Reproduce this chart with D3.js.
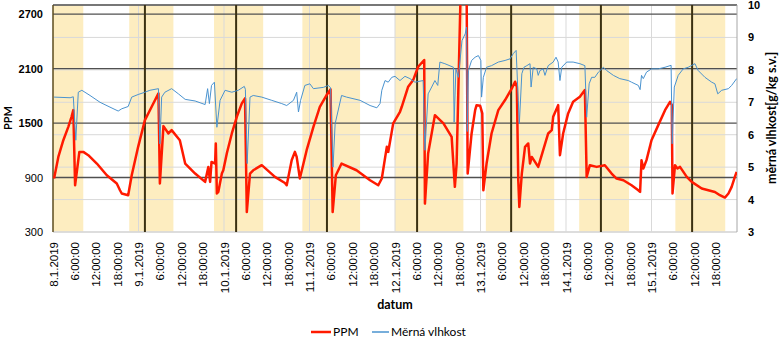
<!DOCTYPE html>
<html>
<head>
<meta charset="utf-8">
<script src="https://cdn.jsdelivr.net/npm/d3@7"></script>
<style>
  body { margin: 0; background: #fff; }
  svg { font-family: Lato, "Open Sans", sans-serif; }
</style>
</head>
<body>
<div id="chart"></div>
<script>
// time is given as hours since 8.1.2019 0:00
var startDate = new Date(2019, 0, 8, 0, 0, 0);

var ppmHours = [0.3, 1.5, 2.9, 4.3, 5.2, 5.7, 6.2, 7.4, 8.5, 9.9, 12.3, 15.1, 17.9, 18.8, 19.3, 21.1,
  22.1, 23.9, 25.8, 27.7, 29.6, 30.0, 31.0, 32.4, 33.3, 35.6, 37.1, 39.9, 42.7, 43.6, 44.1, 44.5,
  45.5, 45.7, 46.0, 46.4, 47.4, 47.8, 48.8, 50.2, 51.6, 53.0, 53.9, 54.4, 55.3, 56.2, 58.6, 62.3,
  65.1, 65.6, 67.0, 67.9, 68.4, 69.3, 71.2, 73.1, 74.9, 76.8, 77.9, 78.5, 79.4, 81.0, 85.2, 89.0,
  91.3, 92.3, 93.7, 94.1, 95.5, 97.4, 97.9, 99.7, 101.1, 102.5, 104.2, 104.4, 105.3, 107.2, 109.6,
  111.9, 112.8, 113.3, 114.4, 115.2, 116.1, 116.4, 117.5, 118.5, 118.9, 119.9, 120.5, 120.8, 121.7,
  123.1, 125.0, 126.9, 128.8, 129.7, 130.2, 130.6, 130.9, 131.6, 132.5, 133.4, 133.9, 134.4, 136.2,
  137.6, 139.0, 140.0, 140.4, 141.8, 142.3, 143.2, 144.6, 146.0, 147.9, 149.3, 149.8, 150.7, 152.6,
  154.9, 156.8, 158.2, 160.1, 162.4, 164.3, 164.8, 165.2, 165.7, 166.6, 168.0, 169.9, 171.8, 173.2,
  173.7, 173.9, 174.6, 175.3, 176.0, 177.9, 179.3, 182.1, 185.8, 187.2, 188.6, 189.6, 190.5, 191.4, 191.9];
var ppmValues = [889, 1127, 1311, 1458, 1569, 1642, 815, 1182, 1182, 1146, 1054, 925, 834, 760, 724, 705,
  925, 1238, 1532, 1679, 1826, 834, 1466, 1385, 1422, 1311, 1054, 944, 852, 1017, 852, 1072,
  1054, 1275, 724, 741, 944, 980, 1168, 1385, 1569, 1716, 1771, 520, 944, 980, 1036, 907,
  840, 815, 1091, 1182, 1127, 889, 1201, 1458, 1679, 1808, 1871, 520, 925, 1054, 980, 870,
  815, 889, 1238, 1182, 1496, 1624, 1679, 1900, 1973, 2120, 2194, 613, 1165, 1587, 1496,
  1348, 797, 1054, 2900, 3400, 3000, 944, 1385, 1642, 1697, 1690, 1606, 760, 1054,
  1385, 1642, 1753, 1882, 1955, 1900, 870, 576, 944, 1238, 1275, 1054, 1127, 1017,
  1201, 1385, 1422, 1569, 1697, 1146, 1385, 1606, 1734, 1789, 1863, 907, 1036, 1017,
  1036, 944, 889, 870, 815, 760, 741, 1091, 999, 1091, 1311, 1477, 1642, 1734,
  1700, 724, 1036, 1000, 1017, 907, 852, 779, 741, 705, 679, 724, 797, 907, 962];

var humHours = [0.3, 4.8, 5.7, 6.4, 7.1, 8.1, 10.4, 13.2, 16.0, 18.3, 19.3, 21.1, 22.1, 23.9, 25.8, 27.2,
  29.6, 30.0, 30.5, 31.4, 33.3, 35.2, 37.1, 39.9, 42.7, 43.4, 43.9, 44.5, 45.3, 46.0, 46.9, 48.3,
  50.2, 52.0, 53.7, 54.0, 54.5, 55.3, 56.2, 58.6, 61.4, 64.2, 65.6, 67.5, 68.4, 68.9, 69.5, 70.7,
  72.1, 73.1, 75.9, 77.3, 77.9, 78.6, 79.2, 81.0, 82.4, 86.2, 89.0, 90.9, 91.8, 92.3, 93.2, 94.1,
  95.1, 96.0, 97.4, 98.8, 100.2, 101.6, 103.9, 104.4, 105.3, 106.3, 107.2, 108.0, 108.6, 110.0,
  112.4, 112.6, 113.1, 113.8, 114.8, 115.7, 116.1, 116.3, 116.6, 117.5, 118.5, 119.4, 120.1, 120.3,
  120.8, 121.7, 123.1, 125.0, 126.9, 128.3, 129.2, 130.0, 130.6, 130.9, 131.6, 132.2, 133.0, 133.9,
  134.2, 134.8, 135.8, 136.2, 136.7, 137.6, 138.1, 139.0, 140.4, 141.2, 141.8, 142.3, 142.8, 144.2,
  146.0, 147.9, 149.3, 149.8, 150.5, 151.2, 152.1, 153.1, 154.5, 155.4, 157.3, 159.1, 161.5, 162.4,
  164.3, 164.8, 165.2, 165.7, 166.6, 168.0, 169.9, 171.8, 173.5, 173.8, 174.4, 175.5, 176.9, 178.3,
  180.2, 181.1, 183.0, 184.9, 185.8, 186.6, 187.7, 189.6, 190.5, 191.9];
var humValues = [7.16, 7.14, 7.17, 5.83, 7.31, 7.37, 7.21, 7.0, 6.85, 6.73, 6.8, 6.87, 7.16, 7.24, 7.31, 7.37,
  7.42, 5.72, 7.16, 7.31, 7.42, 7.26, 7.09, 7.04, 6.93, 7.42, 6.96, 7.52, 7.62, 6.23, 7.06, 7.37,
  7.31, 7.37, 7.49, 7.4, 5.11, 7.16, 7.21, 7.16, 7.06, 6.96, 6.9, 7.06, 7.31, 6.7, 7.06, 7.52,
  7.57, 7.42, 7.46, 7.52, 7.45, 5.0, 6.34, 7.21, 7.16, 7.06, 6.9, 6.83, 6.96, 7.37, 7.67, 7.62,
  7.77, 7.8, 7.67, 7.8, 7.73, 7.62, 7.67, 5.52, 7.26, 7.47, 7.67, 7.52, 8.24, 8.19,
  8.08, 6.39, 8.03, 7.77, 8.9, 9.11, 9.32, 6.1, 7.98, 8.29, 8.39, 8.44, 8.29, 7.16,
  7.77, 8.08, 8.13, 8.24, 8.29, 8.34, 8.5, 8.6, 7.06, 6.34, 7.88, 8.08, 8.13, 8.19,
  7.47, 8.08, 8.03, 7.83, 7.98, 8.03, 7.83, 8.13, 8.24, 8.39, 8.24, 7.67, 8.08, 8.24,
  8.24, 8.19, 8.13, 6.54, 7.57, 7.77, 7.77, 7.93, 8.08, 7.98, 7.83, 7.73, 7.67, 7.62,
  7.52, 7.39, 7.83, 7.73, 7.93, 8.03, 8.03, 8.08, 8.14, 5.72, 7.47, 7.83, 8.03, 8.08,
  8.19, 7.98, 7.77, 7.62, 7.57, 7.26, 7.37, 7.42, 7.52, 7.73];

// shaded periods [from, to] and the dark marker lines, in hours
var bandHours = [[0, 8.5], [21.4, 33.8], [45.2, 59.0], [70.0, 86.2], [96.0, 115.2],
  [121.5, 140.7], [147.7, 161.7], [174.7, 188.7]];
var markerHours = [25.8, 51.4, 76.9, 102.2, 128.6, 153.8, 179.4];

var ppmTicks = [300, 900, 1500, 2100, 2700];
var humTicks = [3, 4, 5, 6, 7, 8, 9, 10];
var tickHours = d3.range(0, 192, 6);

function toDate(h) { return new Date(startDate.getTime() + h * 3600000); }

var margin = { top: 5, right: 43, bottom: 107, left: 53 };
var width = 780 - margin.left - margin.right,
    height = 339 - margin.top - margin.bottom;

var svg = d3.select("#chart").append("svg")
    .attr("width", 780)
    .attr("height", 339);

var g = svg.append("g")
    .attr("transform", "translate(" + margin.left + "," + margin.top + ")");

var x = d3.scaleTime()
    .domain([startDate, toDate(192)])
    .range([0, width]);

var yPpm = d3.scaleLinear().domain([300, 2800]).range([height, 0]);
var yHum = d3.scaleLinear().domain([3, 10]).range([height, 0]);

g.append("clipPath").attr("id", "clip")
  .append("rect").attr("width", width).attr("height", height);

// yellow periods
g.selectAll(".band")
    .data(bandHours)
  .enter().append("rect")
    .attr("class", "band")
    .attr("x", function(d) { return x(toDate(d[0])); })
    .attr("width", function(d) { return x(toDate(d[1])) - x(toDate(d[0])); })
    .attr("y", 0)
    .attr("height", height)
    .style("fill", "#fdedc0");

// light grid (right axis + days)
g.selectAll(".hgrid")
    .data(humTicks)
  .enter().append("line")
    .attr("x1", 0).attr("x2", width)
    .attr("y1", function(d) { return yHum(d); })
    .attr("y2", function(d) { return yHum(d); })
    .style("stroke", "#d9d9d9").style("stroke-width", 1);

g.selectAll(".vgrid")
    .data(d3.range(24, 192, 24))
  .enter().append("line")
    .attr("x1", function(d) { return x(toDate(d)); })
    .attr("x2", function(d) { return x(toDate(d)); })
    .attr("y1", 0).attr("y2", height)
    .style("stroke", "#d9d9d9").style("stroke-width", 1);

// dark grid on PPM ticks
g.selectAll(".pgrid")
    .data(ppmTicks.slice(1))
  .enter().append("line")
    .attr("x1", 0).attr("x2", width)
    .attr("y1", function(d) { return yPpm(d); })
    .attr("y2", function(d) { return yPpm(d); })
    .style("stroke", "#505050").style("stroke-width", 1.3);

// frame
g.append("line").attr("x1", 0).attr("x2", width).attr("y1", 0).attr("y2", 0)
    .style("stroke", "#505050").style("stroke-width", 1.3);
g.append("line").attr("x1", 0).attr("x2", width).attr("y1", height).attr("y2", height)
    .style("stroke", "#d9d9d9").style("stroke-width", 1.5);
g.append("line").attr("x1", width).attr("x2", width).attr("y1", 0).attr("y2", height)
    .style("stroke", "#a6a6a6").style("stroke-width", 1);
g.append("line").attr("x1", 0).attr("x2", 0).attr("y1", 0).attr("y2", height)
    .style("stroke", "#5c4d1f").style("stroke-width", 1.5);

// dark markers
g.selectAll(".marker")
    .data(markerHours)
  .enter().append("line")
    .attr("x1", function(d) { return x(toDate(d)); })
    .attr("x2", function(d) { return x(toDate(d)); })
    .attr("y1", 0).attr("y2", height)
    .style("stroke", "#3b3112").style("stroke-width", 2);

// series
var ppmLine = d3.line()
    .x(function(d, i) { return x(toDate(ppmHours[i])); })
    .y(function(d) { return yPpm(d); });

var humLine = d3.line()
    .x(function(d, i) { return x(toDate(humHours[i])); })
    .y(function(d) { return yHum(d); });

var series = g.append("g").attr("clip-path", "url(#clip)");

series.append("path")
    .datum(ppmValues)
    .attr("d", ppmLine)
    .style("fill", "none")
    .style("stroke", "#ff1a00")
    .style("stroke-width", 2.5)
    .style("stroke-linejoin", "round");

series.append("path")
    .datum(humValues)
    .attr("d", humLine)
    .style("fill", "none")
    .style("stroke", "#4a93cf")
    .style("stroke-width", 1);

// axes
var yAxisLeft = d3.axisLeft(yPpm).tickValues(ppmTicks).tickSize(0).tickPadding(10)
    .tickFormat(d3.format("d"));
var yAxisRight = d3.axisRight(yHum).tickValues(humTicks).tickSize(0).tickPadding(11)
    .tickFormat(d3.format("d"));
var fmtDay = d3.timeFormat("%-d.%-m.%Y"),
    fmtTime = d3.timeFormat("%-H:%M:%S");
var xAxis = d3.axisBottom(x)
    .tickValues(tickHours.map(toDate))
    .tickSize(0)
    .tickFormat(function(d) { return d.getHours() === 0 ? fmtDay(d) : fmtTime(d); });

var gl = g.append("g").call(yAxisLeft);
gl.selectAll("text")
    .style("font-size", "11px")
    .style("fill", "#000")
    .style("font-weight", function(d) { return d >= 1000 ? "bold" : "normal"; });

var gr = g.append("g").attr("transform", "translate(" + width + ",0)").call(yAxisRight);
gr.selectAll("text").style("font-size", "11px").style("font-weight", "bold").style("fill", "#000");

var gx = g.append("g").attr("transform", "translate(0," + height + ")").call(xAxis);
gx.selectAll("text")
    .attr("transform", "rotate(-90)")
    .attr("x", -10)
    .attr("y", 0)
    .attr("dy", "0.35em")
    .style("text-anchor", "end")
    .style("font-size", "11.5px")
    .style("fill", "#000");

g.selectAll(".domain").remove();

// titles
svg.append("text")
    .attr("transform", "translate(12,118) rotate(-90)")
    .style("text-anchor", "middle")
    .style("font-size", "11px")
    .style("font-weight", "bold")
    .text("PPM");

svg.append("text")
    .attr("transform", "translate(772,118) rotate(-90)")
    .attr("dy", "0.35em")
    .style("text-anchor", "middle")
    .style("font-size", "12.5px")
    .style("font-weight", "bold")
    .text("měrná vlhkost[g/kg s.v.]");

svg.append("text")
    .attr("x", 395)
    .attr("y", 309)
    .style("text-anchor", "middle")
    .style("font-size", "12.5px")
    .style("font-weight", "bold")
    .text("datum");

// legend
var legend = svg.append("g").attr("transform", "translate(0,332)");
var legendItems = [
  { name: "PPM", color: "#ff1a00", w: 2.5, x1: 311, x2: 331 },
  { name: "Měrná vlhkost", color: "#4a93cf", w: 1.5, x1: 372, x2: 389 }
];
legendItems.forEach(function(d) {
  legend.append("line")
      .attr("x1", d.x1).attr("x2", d.x2)
      .attr("y1", 0).attr("y2", 0)
      .style("stroke", d.color).style("stroke-width", d.w);
  legend.append("text")
      .attr("x", d.x2 + 2)
      .attr("dy", "0.35em")
      .style("font-size", "12px")
      .text(d.name);
});
</script>
</body>
</html>
